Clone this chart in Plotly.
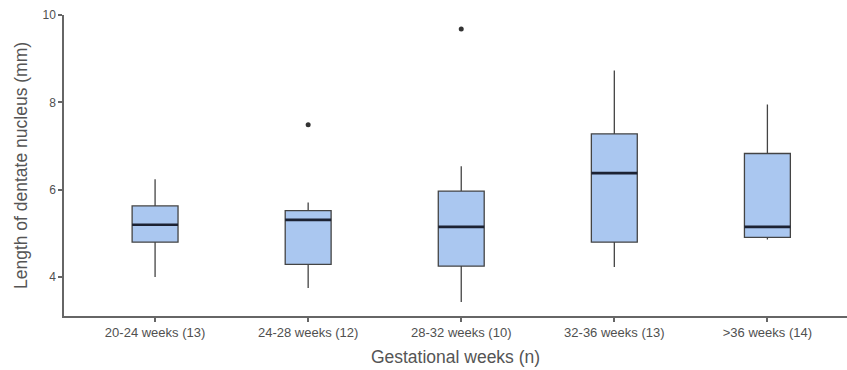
import plotly.graph_objects as go

categories = ["20-24 weeks (13)", "24-28 weeks (12)", "28-32 weeks (10)", "32-36 weeks (13)", ">36 weeks (14)"]
lower_whisker = [4.00, 3.75, 3.43, 4.23, 4.86]
q1 = [4.80, 4.29, 4.25, 4.80, 4.91]
median = [5.20, 5.31, 5.15, 6.38, 5.15]
q3 = [5.63, 5.52, 5.97, 7.28, 6.83]
upper_whisker = [6.24, 5.71, 6.54, 8.73, 7.95]
outlier_cats = ["24-28 weeks (12)", "28-32 weeks (10)"]
outlier_vals = [7.49, 9.68]
y_ticks = [4, 6, 8, 10]

fig = go.Figure()
fig.add_trace(go.Box(
    x=categories, q1=q1, median=median, q3=q3,
    lowerfence=lower_whisker, upperfence=upper_whisker,
    fillcolor="#aac7f0", line=dict(color="#444444", width=1.3),
    whiskerwidth=0, width=0.3, boxpoints=False, showlegend=False,
    hoverinfo="skip"))
# thicker median line
fig.add_trace(go.Box(
    x=categories, q1=median, median=median, q3=median,
    lowerfence=median, upperfence=median,
    fillcolor="rgba(0,0,0,0)", line=dict(color="#1c2233", width=2.6),
    whiskerwidth=0, width=0.3, boxpoints=False, showlegend=False,
    hoverinfo="skip"))
fig.add_trace(go.Scatter(
    x=outlier_cats, y=outlier_vals, mode="markers",
    marker=dict(color="#333333", size=5), showlegend=False, hoverinfo="skip"))

fig.update_layout(
    width=847, height=370,
    margin=dict(l=64, r=0, t=15, b=54),
    paper_bgcolor="white", plot_bgcolor="white",
    boxmode="overlay",
    font=dict(family="Arial, Liberation Sans, sans-serif", color="#444444"),
    xaxis=dict(
        type="category", categoryorder="array", categoryarray=categories,
        range=[-0.595, 4.52],
        showline=True, linecolor="#666666", linewidth=1.5,
        ticks="outside", ticklen=4, tickcolor="#666666", tickwidth=1.5,
        tickfont=dict(size=13, color="#505050"), showgrid=False, zeroline=False,
        title=dict(text="Gestational weeks (n)", font=dict(size=17.5, color="#555555"), standoff=11)),
    yaxis=dict(
        range=[3.11, 10], tickvals=y_ticks,
        showline=True, linecolor="#666666", linewidth=1.5,
        ticks="outside", ticklen=4, tickcolor="#666666", tickwidth=1.5,
        tickfont=dict(size=12, color="#505050"), showgrid=False, zeroline=False,
        title=dict(text="Length of dentate nucleus (mm)", font=dict(size=17.5, color="#555555"), standoff=10)),
)
fig.write_html("out.html")
